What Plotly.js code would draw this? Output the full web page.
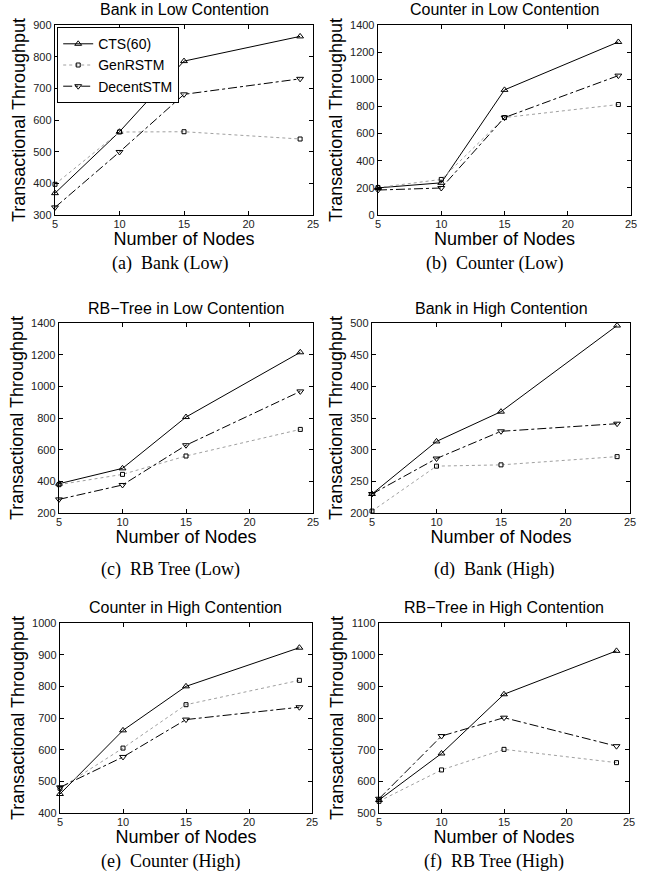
<!DOCTYPE html>
<html>
<head>
<meta charset="utf-8">
<script src="https://cdn.plot.ly/plotly-3.0.1.min.js"></script>
<style>html,body{margin:0;padding:0;background:#fff;}#chart{width:649px;height:888px;}</style>
</head>
<body>
<div id="chart"></div>
<script>
// ---- data ----
const nodes = [5, 10, 15, 24];
const xTickVals = [5, 10, 15, 20, 25];
const seriesNames = ["CTS(60)", "GenRSTM", "DecentSTM"];

const panelTitles = ["Bank in Low Contention", "Counter in Low Contention", "RB\u2212Tree in Low Contention",
                     "Bank in High Contention", "Counter in High Contention", "RB\u2212Tree in High Contention"];
const captions = ["(a)  Bank (Low)", "(b)  Counter (Low)", "(c)  RB Tree (Low)",
                  "(d)  Bank (High)", "(e)  Counter (High)", "(f)  RB Tree (High)"];
const xTitle = "Number of Nodes";
const yTitle = "Transactional Throughput";

// Bank, low contention
const bankLowCTS    = [369, 563, 786, 864];
const bankLowGen    = [397, 562, 563, 540];
const bankLowDecent = [324, 499, 681, 730];
// Counter, low contention
const counterLowCTS    = [200, 237, 922, 1275];
const counterLowGen    = [202, 262, 718, 814];
const counterLowDecent = [184, 199, 718, 1027];
// RB-Tree, low contention
const rbLowCTS    = [385, 482, 806, 1215];
const rbLowGen    = [379, 444, 560, 728];
const rbLowDecent = [286, 377, 628, 968];
// Bank, high contention
const bankHighCTS    = [230, 313, 360, 496];
const bankHighGen    = [203, 274, 276, 289];
const bankHighDecent = [230, 286, 329, 341];
// Counter, high contention
const counterHighCTS    = [460, 661, 800, 922];
const counterHighGen    = [478, 605, 742, 819];
const counterHighDecent = [481, 577, 695, 734];
// RB-Tree, high contention
const rbHighCTS    = [541, 688, 875, 1012];
const rbHighGen    = [537, 636, 701, 659];
const rbHighDecent = [545, 743, 801, 711];

const yRanges = [[300, 900], [0, 1400], [200, 1400], [200, 500], [400, 1000], [500, 1100]];
const yDticks = [100, 200, 200, 50, 100, 100];

const panelData = [
  [bankLowCTS, bankLowGen, bankLowDecent],
  [counterLowCTS, counterLowGen, counterLowDecent],
  [rbLowCTS, rbLowGen, rbLowDecent],
  [bankHighCTS, bankHighGen, bankHighDecent],
  [counterHighCTS, counterHighGen, counterHighDecent],
  [rbHighCTS, rbHighGen, rbHighDecent]
];

// ---- layout geometry (pixels) ----
const W = 649, H = 888;
const boxes = [ // [left, right, top, bottom]
  [55, 313, 25, 215],
  [378, 631, 25, 215],
  [59, 313, 323, 513],
  [372, 630, 323, 513],
  [60, 312, 623, 813],
  [379, 629, 623, 813]
];
const titleY = [10, 10, 308, 308, 607, 607];
const captionPos = [[170, 263], [494, 263], [170, 569], [494, 569], [170, 861], [494, 861]];

const styles = [
  {line: {color: "#000", width: 1, dash: "solid"}, marker: {symbol: "triangle-up-open", size: 6, color: "#000", line: {width: 1, color: "#000"}}},
  {line: {color: "#a0a0a0", width: 1, dash: "dot"}, marker: {symbol: "square-open", size: 4, color: "#000", line: {width: 1, color: "#000"}}},
  {line: {color: "#000", width: 1, dash: "dashdot"}, marker: {symbol: "triangle-down-open", size: 6, color: "#000", line: {width: 1, color: "#000"}}}
];

const traces = [];
const layout = {
  width: W, height: H,
  margin: {l: 0, r: 0, t: 0, b: 0},
  paper_bgcolor: "#fff", plot_bgcolor: "#fff",
  font: {family: "Liberation Sans, Arial, sans-serif", color: "#000"},
  showlegend: true,
  legend: {
    x: 57 / W, y: 1 - 27 / H, xanchor: "left", yanchor: "top",
    bgcolor: "#fff", bordercolor: "#000", borderwidth: 1.2,
    font: {size: 14, family: "Liberation Sans, Arial, sans-serif", color: "#000"},
    itemwidth: 30, tracegroupgap: 0
  },
  annotations: []
};

panelData.forEach((series, i) => {
  const n = i + 1;
  const xa = n === 1 ? "x" : "x" + n;
  const ya = n === 1 ? "y" : "y" + n;
  series.forEach((vals, s) => {
    traces.push({
      type: "scatter", mode: "lines+markers",
      x: nodes, y: vals, name: seriesNames[s],
      xaxis: xa, yaxis: ya,
      showlegend: i === 0,
      line: styles[s].line, marker: styles[s].marker,
      cliponaxis: false
    });
  });
  const b = boxes[i];
  const axCommon = {
    showgrid: false, zeroline: false,
    showline: true, linecolor: "#000", linewidth: 1.3, mirror: "ticks",
    ticks: "inside", ticklen: 4, tickcolor: "#000", tickwidth: 1,
    tickfont: {size: 11, color: "#222"}
  };
  layout["xaxis" + (n === 1 ? "" : n)] = Object.assign({}, axCommon, {
    domain: [b[0] / W, b[1] / W], anchor: ya,
    range: [5, 25], tickvals: xTickVals, ticktext: xTickVals.map(String),
    ticklabelstandoff: -2,
    title: {text: xTitle, font: {size: 18}, standoff: 0}
  });
  layout["yaxis" + (n === 1 ? "" : n)] = Object.assign({}, axCommon, {
    domain: [1 - b[3] / H, 1 - b[2] / H], anchor: xa,
    range: yRanges[i], dtick: yDticks[i],
    title: {text: yTitle, font: {size: 18}, standoff: 2}
  });
  layout.annotations.push({
    xref: "paper", yref: "paper", x: (b[0] + b[1]) / 2 / W, y: 1 - titleY[i] / H,
    xanchor: "center", yanchor: "middle", showarrow: false,
    text: panelTitles[i], font: {size: 16, color: "#000"}
  });
  layout.annotations.push({
    xref: "paper", yref: "paper", x: captionPos[i][0] / W, y: 1 - captionPos[i][1] / H,
    xanchor: "center", yanchor: "middle", showarrow: false,
    text: captions[i], font: {size: 18, family: "Liberation Serif, Times New Roman, serif", color: "#000"}
  });
});

Plotly.newPlot("chart", traces, layout, {displayModeBar: false, staticPlot: true});
</script>
</body>
</html>
